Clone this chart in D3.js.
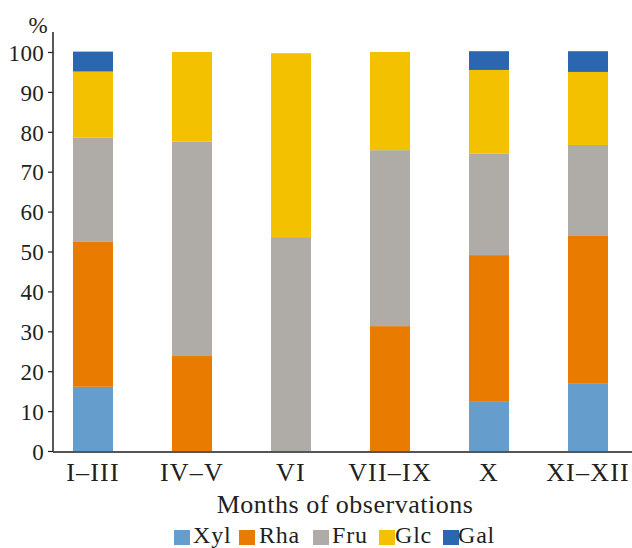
<!DOCTYPE html>
<html><head><meta charset="utf-8">
<script src="https://cdn.jsdelivr.net/npm/d3@7"></script>
<style>body{margin:0;background:#fff}svg{display:block}svg text{font-family:"Liberation Serif","Times New Roman",serif !important;fill:#231f20}</style>
</head><body><div id="c"></div>
<script>
const categories = ["I\u2013III","IV\u2013V","VI","VII\u2013IX","X","XI\u2013XII"];
const seriesNames = ["Xyl","Rha","Fru","Glc","Gal"];
const Xyl = [16.1, 0, 0, 0, 12.5, 17.0];
const Rha = [36.3, 23.8, 0, 31.3, 36.6, 36.9];
const Fru = [26.1, 53.7, 53.6, 44.1, 25.5, 22.8];
const Glc = [16.6, 22.5, 46.1, 24.6, 20.9, 18.3];
const Gal = [5.0, 0, 0, 0, 4.7, 5.2];
const yTicks = [0,10,20,30,40,50,60,70,80,90,100];
const colors = ["#659ecc","#e87b00","#afaca8","#f4c100","#2b67b1"];
const xTitle = "Months of observations";
const yUnit = "%";

const W = 632, H = 548;
const svg = d3.select("#c").append("svg").attr("width", W).attr("height", H);
const rows = categories.map((c,i)=>({cat:c, Xyl:Xyl[i], Rha:Rha[i], Fru:Fru[i], Glc:Glc[i], Gal:Gal[i]}));
const stack = d3.stack().keys(seriesNames)(rows);

const x = d3.scaleBand().domain(categories).range([43.5, 637.5]).paddingInner(0.596).paddingOuter(0.298);
const y = d3.scaleLinear().domain([0,100]).range([451, 52]);

const g = svg.append("g");
stack.forEach((s,k)=>{
  g.selectAll(null).data(s).enter().append("rect")
    .attr("x", d=>x(d.data.cat))
    .attr("width", x.bandwidth())
    .attr("y", d=>y(d[1]))
    .attr("height", d=>Math.max(0, y(d[0])-y(d[1])))
    .attr("fill", colors[k]);
});

// y axis
const ya = svg.append("g").attr("transform","translate(53,0)")
  .call(d3.axisLeft(y).tickValues(yTicks).tickSize(5).tickPadding(4));
ya.attr("font-family", null);
ya.select(".domain").attr("d","M0,32V452").attr("stroke","#231f20").attr("stroke-width",1.5);
ya.selectAll(".tick line").attr("stroke","#231f20").attr("stroke-width",1.2);
ya.selectAll(".tick text").attr("font-size",23).attr("fill","#231f20").attr("dy","0.36em").style("letter-spacing","0.3px");

// x axis
const xa = svg.append("g").attr("transform","translate(0,452)")
  .call(d3.axisBottom(x).tickSize(0).tickPadding(0));
xa.attr("font-family", null);
xa.select(".domain").attr("d","M53,0H632").attr("stroke","#555").attr("stroke-width",2);
xa.selectAll(".tick text").attr("font-size",26).attr("fill","#231f20").attr("y",29).attr("dy",0).style("letter-spacing","1.2px");

svg.append("text").attr("x",38).attr("y",33).attr("text-anchor","middle").attr("font-size",23).text(yUnit);
svg.append("text").attr("x",345).attr("y",513).attr("text-anchor","middle").attr("font-size",26).style("letter-spacing","0.5px").text(xTitle);

const legX = [174, 239, 313, 379, 443];
const legT = [193, 259, 332, 395, 458];
const lg = svg.append("g");
seriesNames.forEach((n,i)=>{
  lg.append("rect").attr("x",legX[i]).attr("y",530).attr("width",16).attr("height",15).attr("fill",colors[i]);
  lg.append("text").attr("x",legT[i]).attr("y",543).attr("font-size",24).style("letter-spacing","0.8px").text(n);
});
</script></body></html>
